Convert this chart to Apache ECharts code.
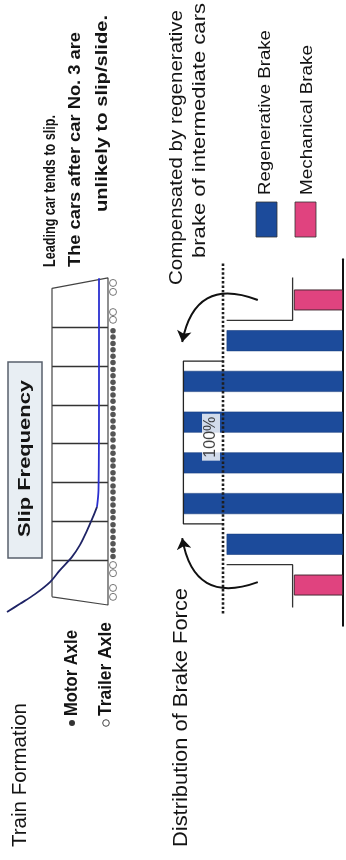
<!DOCTYPE html>
<html><head><meta charset="utf-8">
<script src="https://cdn.jsdelivr.net/npm/echarts@6/dist/echarts.min.js"></script>
<style>html,body{margin:0;padding:0;background:#fff}#c{width:346px;height:860px}</style>
</head><body><div id="c"></div>
<script>
// ---------------- data ----------------
const cars = ['Car 1', 'Car 2', 'Car 3', 'Car 4', 'Car 5', 'Car 6', 'Car 7', 'Car 8'];
const regenerativeBrake = [0, 97, 133, 133, 133, 133, 97, 0];   // % of required brake force
const mechanicalBrake   = [41, 0, 0, 0, 0, 0, 0, 41];
const requiredLevel = 100;       // dotted 100 % line
const compensatedLevel = 133;    // extra regenerative brake of intermediate cars
const endCarLevel = 42;          // brake force of the end (trailer) cars
const compensatedCars = [2.5, 6.5];   // span of cars 3..6 (car-position units)

// slip frequency along the train (position in car lengths, relative slip frequency)
const slipPosition  = [8.26, 5.12, 2.80, 2.37, 2.11, 1.70, 1.39, 1.08, 0.74, 0.43, 0.12, -0.13, -0.34];
const slipFrequency = [21, 21, 21.5, 23, 27, 34, 40, 48, 60, 70, 85, 100, 113];

// train formation
const carBoundaries = [1, 2, 3, 4, 5, 6, 7];
const trailerAxles = [0.05, 0.28, 0.66, 0.87, 7.19, 7.39, 7.91, 8.14];
const motorCarStarts = [1, 2, 3, 4, 5, 6];
const motorAxleOffsets = [0.09, 0.25, 0.42, 0.58, 0.75, 0.91];

// ---------------- derived ----------------
const BLUE = '#1c4b9b', PINK = '#e0437f', INK = '#141414';
const FONT = '"Liberation Sans", Arial, Helvetica, sans-serif';
const blank = v => (v ? v : '-');
const motorAxles = [];
motorCarStarts.forEach(c => motorAxleOffsets.forEach(o => motorAxles.push([7, c + o])));
const slipData = slipPosition.map((p, i) => [slipFrequency[i], p]);
const bodyOutline = [[68, 0.05], [68, 8.0], [12, 8.27], [12, -0.16], [68, 0.05]];

const mctx = document.createElement('canvas').getContext('2d');
function rtext(str, x, yStart, yEnd, size, weight) {
  const font = weight + ' ' + size + 'px ' + FONT;
  mctx.font = font;
  const w = mctx.measureText(str).width;
  return {
    type: 'text', x: x, y: yStart, rotation: Math.PI / 2, scaleX: (yStart - yEnd) / w, z: 10,
    style: { text: str, font: font, fill: INK, align: 'left', verticalAlign: 'middle',
             textAlign: 'left', textVerticalAlign: 'middle' }
  };
}

const chart = echarts.init(document.getElementById('c'), null, { renderer: 'canvas' });
chart.setOption({
  animation: false,
  backgroundColor: '#ffffff',
  textStyle: { fontFamily: FONT },
  grid: [
    { left: 163, width: 180, top: 279.6, height: 325.8 },
    { left: 163, width: 180, top: 259.3, height: 366.4 },
    { left: 0, width: 120, top: 249.6, height: 388 }
  ],
  xAxis: [
    { gridIndex: 0, type: 'value', min: 0, max: 150, inverse: true, show: false },
    { gridIndex: 1, type: 'value', min: 0, max: 150, inverse: true, show: false },
    { gridIndex: 2, type: 'value', min: 0, max: 120, inverse: true, show: false }
  ],
  yAxis: [
    { gridIndex: 0, type: 'category', data: cars, show: false },
    { gridIndex: 1, type: 'value', min: 0, max: 9, position: 'right',
      axisLine: { show: true, onZero: false, lineStyle: { color: '#111', width: 2 } },
      axisTick: { show: false }, axisLabel: { show: false }, splitLine: { show: false } },
    { gridIndex: 2, type: 'value', min: -1, max: 9, show: false }
  ],
  series: [
    { name: 'Regenerative Brake', type: 'bar', xAxisIndex: 0, yAxisIndex: 0,
      data: regenerativeBrake.map(blank), barWidth: 21, barGap: '-100%',
      itemStyle: { color: BLUE, borderColor: '#173e80', borderWidth: 0.6 } },
    { name: 'Mechanical Brake', type: 'bar', xAxisIndex: 0, yAxisIndex: 0,
      data: mechanicalBrake.map(blank), barWidth: 21, barGap: '-100%',
      itemStyle: { color: PINK, borderColor: '#4a2a35', borderWidth: 1 } },
    // outlines of the brake force distribution
    { type: 'line', xAxisIndex: 1, yAxisIndex: 1, symbol: 'none', z: 3,
      lineStyle: { color: '#333', width: 1.3 },
      data: [[endCarLevel, 8.55], [endCarLevel, 7.5], [requiredLevel - 3, 7.5]] },
    { type: 'line', xAxisIndex: 1, yAxisIndex: 1, symbol: 'none', z: 3,
      lineStyle: { color: '#333', width: 1.3 },
      data: [[endCarLevel, 0.45], [endCarLevel, 1.5], [requiredLevel - 3, 1.5]] },
    { type: 'line', xAxisIndex: 1, yAxisIndex: 1, symbol: 'none', z: 3,
      lineStyle: { color: '#222', width: 1.3 },
      data: [[requiredLevel, compensatedCars[1]], [compensatedLevel, compensatedCars[1]],
             [compensatedLevel, compensatedCars[0]], [requiredLevel, compensatedCars[0]]] },
    { type: 'line', xAxisIndex: 1, yAxisIndex: 1, symbol: 'none', z: 4,
      lineStyle: { color: '#1e1e1e', width: 2.6, type: [2.4, 2] },
      data: [[requiredLevel, 0.3], [requiredLevel, 8.9]] },
    // curved arrows
    { type: 'lines', coordinateSystem: 'cartesian2d', xAxisIndex: 1, yAxisIndex: 1, z: 5,
      symbol: ['none', 'arrow'], symbolSize: 11,
      lineStyle: { color: '#111', width: 2, opacity: 1 },
      data: [
        { coords: [[71, 8.0], [134, 6.97]], lineStyle: { curveness: -0.6 } },
        { coords: [[71, 1.07], [134, 2.15]], lineStyle: { curveness: 0.6 } }
      ] },
    // 100% label
    { type: 'scatter', xAxisIndex: 1, yAxisIndex: 1, symbolSize: 0, z: 6,
      data: [[110, 4.63]],
      label: { show: true, position: 'inside', rotate: 90, formatter: '100%', fontSize: 16,
               color: INK, backgroundColor: '#ffffff', padding: [1, 3] } },
    // train formation
    { type: 'line', xAxisIndex: 2, yAxisIndex: 2, symbol: 'none',
      lineStyle: { color: '#444', width: 1.2 }, data: bodyOutline },
    { type: 'lines', coordinateSystem: 'cartesian2d', xAxisIndex: 2, yAxisIndex: 2,
      lineStyle: { color: '#333', width: 1.3, opacity: 1 },
      data: carBoundaries.map(b => ({ coords: [[12, b], [68, b]] })) },
    { type: 'scatter', xAxisIndex: 2, yAxisIndex: 2, symbol: 'circle', symbolSize: 7,
      itemStyle: { color: '#fff', borderColor: '#555', borderWidth: 1 },
      data: trailerAxles.map(p => [7, p]) },
    { type: 'scatter', xAxisIndex: 2, yAxisIndex: 2, symbol: 'circle', symbolSize: 5.5,
      itemStyle: { color: '#2a2a2a' }, data: motorAxles },
    { type: 'line', xAxisIndex: 2, yAxisIndex: 2, symbol: 'none', smooth: 0.3, z: 4,
      lineStyle: { color: '#2a2fd0', width: 1.8 }, data: slipData.slice(0, 4) },
    { type: 'line', xAxisIndex: 2, yAxisIndex: 2, symbol: 'none', smooth: 0.3, z: 4,
      lineStyle: { color: '#1f2466', width: 1.8 }, data: slipData.slice(3) }
  ],
  graphic: [
    { type: 'rect', shape: { x: 8, y: 362, width: 34, height: 196 }, z: 5,
      style: { fill: '#e8eef3', stroke: '#58606c', lineWidth: 1.5 } },
    rtext('Slip Frequency', 25, 537, 380, 17, 'bold'),
    rtext('Train Formation', 20, 847, 703, 20, 'normal'),
    { type: 'circle', shape: { cx: 72, cy: 723, r: 3 }, z: 10, style: { fill: '#333' } },
    rtext('Motor Axle', 72, 716, 630, 18, 'bold'),
    { type: 'circle', shape: { cx: 106, cy: 723, r: 3.3 }, z: 10, style: { fill: '#fff', stroke: '#444', lineWidth: 1 } },
    rtext('Trailer Axle', 106, 716, 622, 18, 'bold'),
    rtext('Distribution of Brake Force', 181, 847, 588, 20, 'normal'),
    rtext('Leading car tends to slip.', 50, 267, 115, 17, 'bold'),
    rtext('The cars after car No. 3 are', 75, 267, 32, 17, 'bold'),
    rtext('unlikely to slip/slide.', 102, 212, 15, 17, 'bold'),
    rtext('Compensated by regenerative', 177, 285, 10, 19, 'normal'),
    rtext('brake of intermediate cars', 200, 258, 3, 19, 'normal'),
    { type: 'rect', shape: { x: 256, y: 202, width: 21, height: 35 }, z: 10,
      style: { fill: BLUE, stroke: '#333', lineWidth: 0.8 } },
    rtext('Regenerative Brake', 266, 195, 30, 16, 'normal'),
    { type: 'rect', shape: { x: 295, y: 202, width: 21, height: 35 }, z: 10,
      style: { fill: PINK, stroke: '#333', lineWidth: 0.8 } },
    rtext('Mechanical Brake', 308, 195, 45, 16, 'normal')
  ]
});
</script></body></html>
